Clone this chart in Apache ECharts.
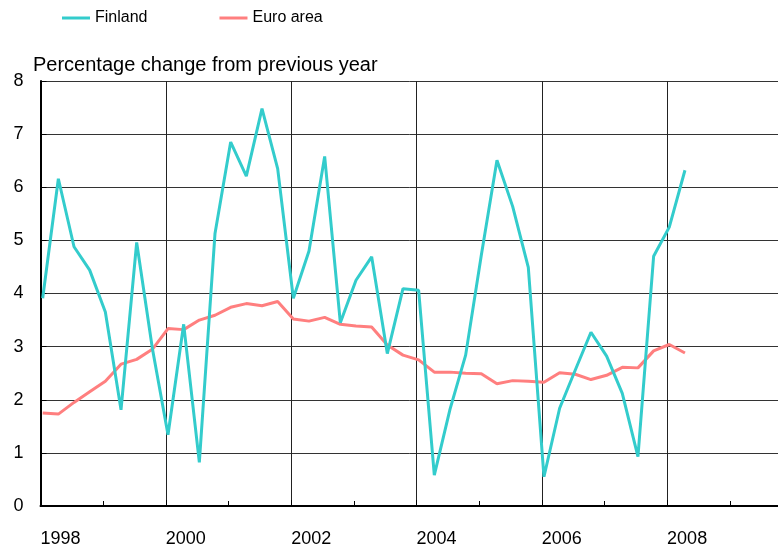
<!DOCTYPE html>
<html>
<head>
<meta charset="utf-8">
<script src="https://cdn.jsdelivr.net/npm/echarts@6/dist/echarts.min.js"></script>
<style>
  html, body { margin: 0; padding: 0; background: #fff; }
  #chart { width: 778px; height: 550px; }
</style>
</head>
<body>
<div id="chart"></div>
<script>
// Quarterly observations, 1998Q1 - 2008Q2
const quarters = [];
for (let y = 1998; y <= 2008; y++) {
  for (let q = 1; q <= 4; q++) {
    if (y === 2008 && q > 2) break;
    quarters.push(y + 'Q' + q);
  }
}

const finland = [
  3.91, 6.16, 4.88, 4.44, 3.65, 1.81, 4.96, 2.97,
  1.34, 3.42, 0.82, 5.13, 6.85, 6.21, 7.48, 6.35,
  3.91, 4.80, 6.58, 3.45, 4.25, 4.69, 2.87, 4.09,
  4.06, 0.58, 1.82, 2.84, 4.72, 6.51, 5.64, 4.49,
  0.55, 1.84, 2.56, 3.27, 2.82, 2.12, 0.93, 4.70,
  5.25, 6.32
];

const euroArea = [
  1.75, 1.73, 1.95, 2.15, 2.35, 2.67, 2.76, 2.95,
  3.34, 3.32, 3.50, 3.59, 3.74, 3.81, 3.77, 3.85,
  3.52, 3.48, 3.55, 3.42, 3.39, 3.37, 3.03, 2.84,
  2.75, 2.52, 2.52, 2.50, 2.49, 2.30, 2.36, 2.35,
  2.33, 2.51, 2.48, 2.38, 2.46, 2.61, 2.60, 2.92,
  3.04, 2.88
];

const yTicks = [0, 1, 2, 3, 4, 5, 6, 7, 8];
const yearTicks = [1998, 2000, 2002, 2004, 2006, 2008];
// The time axis runs on past the last labelled year to the right edge
const xAxisEnd = 2009.77;

// Each quarter is placed a little after the start of its first month
function quarterToTime(label) {
  const year = parseInt(label.slice(0, 4), 10);
  const q = parseInt(label.slice(5), 10);
  return year + (q - 1) * 0.25 + 0.035;
}

function pairs(values) {
  return values.map((v, i) => [quarterToTime(quarters[i]), v]);
}

const FONT = '"Liberation Sans", Arial, sans-serif';
const TEAL = '#33CCCC';
const SALMON = '#FF7F7F';

const chart = echarts.init(document.getElementById('chart'), null, { renderer: 'canvas' });

chart.setOption({
  animation: false,
  backgroundColor: '#ffffff',
  legend: {
    top: 5,
    left: 57,
    itemWidth: 28,
    itemHeight: 3,
    itemGap: 72,
    icon: 'rect',
    textStyle: { fontFamily: FONT, fontSize: 16, color: '#000' },
    data: [
      { name: 'Finland', itemStyle: { color: TEAL } },
      { name: 'Euro area', itemStyle: { color: SALMON } }
    ]
  },
  graphic: [{
    type: 'text',
    left: 33,
    top: 55,
    style: {
      text: 'Percentage change from previous year',
      font: '20px ' + FONT,
      fill: '#000'
    }
  }],
  grid: {
    left: 40.5,
    top: 81,
    right: 0,
    height: 425,
    containLabel: false
  },
  xAxis: {
    type: 'value',
    min: yearTicks[0],
    max: xAxisEnd,
    interval: 2,
    axisLine: { show: true, onZero: false, lineStyle: { color: '#000', width: 2 } },
    axisTick: { show: true, inside: true, length: 6, lineStyle: { color: '#000', width: 1 } },
    minorTick: { show: true, splitNumber: 2, length: 5, lineStyle: { color: '#000', width: 1 } },
    splitLine: { show: true, lineStyle: { color: '#222', width: 1 } },
    axisLabel: {
      fontFamily: FONT,
      fontSize: 18,
      color: '#000',
      align: 'left',
      margin: 24,
      formatter: v => (yearTicks.indexOf(v) >= 0 ? String(v) : ''),
      showMaxLabel: false
    }
  },
  yAxis: {
    type: 'value',
    min: yTicks[0],
    max: yTicks[yTicks.length - 1],
    interval: 1,
    axisLine: { show: true, lineStyle: { color: '#000', width: 2 } },
    axisTick: { show: true, inside: true, length: 6, lineStyle: { color: '#000', width: 1 } },
    splitLine: { show: true, lineStyle: { color: '#333', width: 1 } },
    axisLabel: {
      fontFamily: FONT,
      fontSize: 18,
      color: '#000',
      margin: 17
    }
  },
  series: [
    {
      name: 'Finland',
      type: 'line',
      data: pairs(finland),
      showSymbol: false,
      symbol: 'none',
      lineStyle: { color: TEAL, width: 3 },
      itemStyle: { color: TEAL },
      z: 3
    },
    {
      name: 'Euro area',
      type: 'line',
      data: pairs(euroArea),
      showSymbol: false,
      symbol: 'none',
      lineStyle: { color: SALMON, width: 3 },
      itemStyle: { color: SALMON },
      z: 2
    }
  ]
});
</script>
</body>
</html>
